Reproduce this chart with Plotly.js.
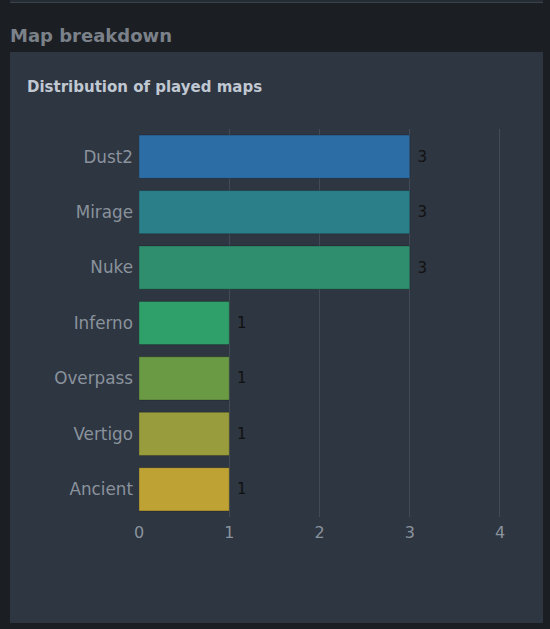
<!DOCTYPE html>
<html>
<head>
<meta charset="utf-8">
<script src="https://cdn.plot.ly/plotly-3.0.1.min.js"></script>
<style>
  html, body { margin:0; padding:0; width:550px; height:629px; overflow:hidden; background:#1b1f24; font-family:"DejaVu Sans", sans-serif; }
  #topbar { position:absolute; left:10px; top:0; width:533px; height:2px; background:#262c34; border-bottom:1px solid #3a424c; }
  #header { position:absolute; left:10px; top:25px; font-size:18px; font-weight:bold; color:#7b8189; }
  #panel { position:absolute; left:10px; top:52px; width:533px; height:571px; background:#2e3642; }
  #chart { position:absolute; left:0; top:0; width:550px; height:629px; }
</style>
</head>
<body>
<div id="topbar"></div>
<div id="header">Map breakdown</div>
<div id="panel"></div>
<div id="chart"></div>
<script>
const maps = ["Dust2", "Mirage", "Nuke", "Inferno", "Overpass", "Vertigo", "Ancient"];
const counts = [3, 3, 3, 1, 1, 1, 1];
const barColors = ["#2d6da5", "#2b7f88", "#2f8e6d", "#30a06a", "#6a9a44", "#999c3c", "#bea234"];
const xTicks = [0, 1, 2, 3, 4];

const trace = {
  type: "bar",
  orientation: "h",
  y: maps,
  x: counts,
  texttemplate: "\u00a0%{x}",
  textposition: "outside",
  cliponaxis: false,
  textfont: { family: "DejaVu Sans", size: 15, color: "#111111" },
  marker: { color: barColors, line: { color: "rgba(0,0,0,0.22)", width: 1 } },
  hoverinfo: "none"
};

const layout = {
  width: 550,
  height: 629,
  paper_bgcolor: "rgba(0,0,0,0)",
  plot_bgcolor: "rgba(0,0,0,0)",
  margin: { l: 139, r: 41, t: 129, b: 112 },
  showlegend: false,
  bargap: 0.22,
  title: {
    text: "<b>Distribution of played maps</b>",
    font: { family: "DejaVu Sans", size: 15, color: "#c0c8d2" },
    x: 27 / 550, xanchor: "left", xref: "container",
    y: 1 - 87 / 629, yanchor: "middle", yref: "container"
  },
  xaxis: {
    range: [0, 4.1],
    tickvals: xTicks,
    ticktext: xTicks.map(String),
    showgrid: true,
    gridcolor: "#414a56",
    gridwidth: 1,
    zeroline: false,
    showline: false,
    tickfont: { family: "DejaVu Sans", size: 16, color: "#8a929c" },
    ticks: "",
    ticklabelstandoff: 4
  },
  yaxis: {
    autorange: "reversed",
    showgrid: false,
    zeroline: false,
    showline: false,
    tickfont: { family: "DejaVu Sans", size: 16.8, color: "#8a929c" },
    ticks: "",
    ticklabelstandoff: 5
  }
};

Plotly.newPlot("chart", [trace], layout, { displayModeBar: false, staticPlot: true });
</script>
</body>
</html>
